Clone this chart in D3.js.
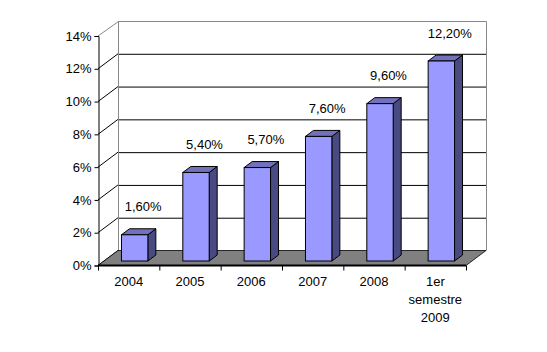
<!DOCTYPE html>
<html>
<head>
<meta charset="utf-8">
<script src="https://cdn.jsdelivr.net/npm/d3@7"></script>
<style>
  body { margin: 0; background: #fff; }
  svg { display: block; }
</style>
</head>
<body>
<div id="chart"></div>
<script>
const categories = ["2004", "2005", "2006", "2007", "2008", "1er semestre 2009"];
const catLines = [["2004"], ["2005"], ["2006"], ["2007"], ["2008"], ["1er", "semestre", "2009"]];
const values = [1.6, 5.4, 5.7, 7.6, 9.6, 12.2];
const yTicks = [0, 2, 4, 6, 8, 10, 12, 14];

const width = 547, height = 352;
const plotLeft = 98, plotRight = 466, plotBottom = 265.5, plotTop = 36;
const dx = 20, dy = -15; // depth of the 3d box
const font = "'Liberation Sans', Arial, sans-serif";

const svg = d3.select("#chart").append("svg")
    .attr("width", width)
    .attr("height", height);

const x = d3.scaleBand()
    .domain(categories)
    .range([plotLeft, plotRight]);

const y = d3.scaleLinear()
    .domain([0, 14])
    .range([plotBottom, plotTop]);

const fr = d3.formatLocale({ decimal: ",", thousands: ".", grouping: [3], currency: ["", "€"] });
const fmt = fr.format(".2f");

// walls
svg.append("path")
    .attr("d", `M${plotLeft},${y(14)} L${plotLeft + dx},${y(14) + dy} L${plotRight + dx},${y(14) + dy} L${plotRight + dx},${y(0) + dy} L${plotLeft + dx},${y(0) + dy} L${plotLeft},${y(0)} Z`)
    .attr("fill", "#fff")
    .attr("stroke", "none");

// back wall grid lines
svg.append("g")
    .selectAll("line")
    .data(yTicks.slice(1, -1))
    .join("line")
    .attr("x1", plotLeft + dx)
    .attr("x2", plotRight + dx)
    .attr("y1", d => y(d) + dy + 0.5)
    .attr("y2", d => y(d) + dy + 0.5)
    .attr("stroke", "#000");

// left wall grid lines
svg.append("g")
    .selectAll("line")
    .data(yTicks.slice(0, -1))
    .join("line")
    .attr("x1", plotLeft)
    .attr("x2", plotLeft + dx)
    .attr("y1", d => y(d))
    .attr("y2", d => y(d) + dy)
    .attr("stroke", "#000");

// wall border
svg.append("path")
    .attr("d", `M${plotLeft},${y(14)} L${plotLeft + dx + 0.5},${y(14) + dy + 0.5} L${plotRight + dx + 0.5},${y(14) + dy + 0.5} L${plotRight + dx + 0.5},${y(0) + dy}`)
    .attr("fill", "none")
    .attr("stroke", "#888");
svg.append("line")
    .attr("x1", plotLeft + dx + 0.5).attr("x2", plotLeft + dx + 0.5)
    .attr("y1", y(14) + dy).attr("y2", y(0) + dy)
    .attr("stroke", "#888");

// floor
svg.append("path")
    .attr("d", `M${plotLeft},${y(0)} L${plotRight},${y(0)} L${plotRight + dx},${y(0) + dy} L${plotLeft + dx},${y(0) + dy} Z`)
    .attr("fill", "#808080")
    .attr("stroke", "#000")
    .attr("stroke-width", 0.8);

// bars
const bw = x.bandwidth() * 0.43;
const f0 = 0.3, f1 = 0.7;
const bars = svg.append("g")
    .selectAll("g")
    .data(categories.map((c, i) => ({ c, v: values[i] })))
    .join("g");

bars.each(function(d) {
    const g = d3.select(this);
    const x0 = x(d.c) + (x.bandwidth() - bw) / 2 + f0 * dx;
    const x1 = x0 + bw;
    const yb = y(0) + f0 * dy, yt = y(d.v) + f0 * dy;
    const ddx = (f1 - f0) * dx, ddy = (f1 - f0) * dy;
    g.append("path")
        .attr("d", `M${x1},${yb} L${x1 + ddx},${yb + ddy} L${x1 + ddx},${yt + ddy} L${x1},${yt} Z`)
        .attr("fill", "#4a4a82")
        .attr("stroke", "#000");
    g.append("path")
        .attr("d", `M${x0},${yt} L${x0 + ddx},${yt + ddy} L${x1 + ddx},${yt + ddy} L${x1},${yt} Z`)
        .attr("fill", "#7272bc")
        .attr("stroke", "#000");
    g.append("rect")
        .attr("x", x0)
        .attr("y", yt)
        .attr("width", bw)
        .attr("height", yb - yt)
        .attr("fill", "#9999ff")
        .attr("stroke", "#000");
});

// value labels
svg.append("g")
    .selectAll("text")
    .data(categories.map((c, i) => ({ c, v: values[i] })))
    .join("text")
    .attr("x", d => x(d.c) + x.bandwidth() / 2 + 14.5)
    .attr("y", d => y(d.v) - 28)
    .attr("text-anchor", "middle")
    .attr("font-family", font)
    .attr("font-size", "13px")
    .attr("fill", "#000")
    .text(d => fmt(d.v) + "%");

// y axis
const yAxis = svg.append("g")
    .attr("transform", `translate(${plotLeft + 0.5},0)`)
    .call(d3.axisLeft(y).tickValues(yTicks).tickSize(4).tickPadding(3).tickFormat(d => d + "%"));
yAxis.select(".domain").attr("stroke", "#000");
yAxis.selectAll("text")
    .attr("font-family", font)
    .attr("font-size", "13px")
    .attr("fill", "#000");

// x axis
const xAxis = svg.append("g")
    .attr("transform", `translate(0,${plotBottom})`);
xAxis.append("line")
    .attr("x1", plotLeft).attr("x2", plotRight)
    .attr("stroke", "#000")
    .attr("stroke-width", 2);
xAxis.selectAll("line.tick")
    .data(d3.range(categories.length + 1))
    .join("line")
    .attr("class", "tick")
    .attr("x1", i => (i < categories.length ? x(categories[i]) : plotRight) + 0.5)
    .attr("x2", i => (i < categories.length ? x(categories[i]) : plotRight) + 0.5)
    .attr("y1", 0)
    .attr("y2", 5)
    .attr("stroke", "#000");
xAxis.selectAll("text")
    .data(categories.map((c, i) => ({ c, lines: catLines[i] })))
    .join("text")
    .attr("text-anchor", "middle")
    .attr("font-family", font)
    .attr("font-size", "13px")
    .attr("fill", "#000")
    .each(function(d) {
        d3.select(this).selectAll("tspan")
            .data(d.lines)
            .join("tspan")
            .attr("x", x(d.c) + x.bandwidth() / 2)
            .attr("y", (l, j) => 20.5 + j * 18)
            .text(l => l);
    });
</script>
</body>
</html>
